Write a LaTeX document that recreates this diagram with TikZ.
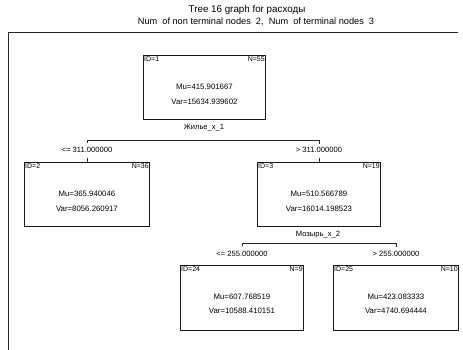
\documentclass[tikz,border=0pt]{standalone}
\usepackage{fontspec}
\setmainfont{Liberation Sans}
\usetikzlibrary{calc}
\begin{document}
\begin{tikzpicture}[x=1pt,y=-1pt,
  treebox/.style={draw=black!90,line width=0.9pt,minimum width=#1,minimum height=64pt,inner sep=0pt,anchor=north west},
  val/.style={font=\fontsize{7.8}{9}\selectfont,inner sep=0pt},
  corner/.style={font=\fontsize{7}{8}\selectfont,inner sep=1pt},
  split/.style={font=\fontsize{7.6}{9}\selectfont,inner sep=0pt},
  conn/.style={draw=black!85,line width=0.9pt}]
\useasboundingbox (0,0) rectangle (463,350);
% titles
\node[font=\fontsize{9.8}{11}\selectfont,inner sep=0pt] (t1) at (247,10) {Tree 16 graph for расходы};
\node[font=\fontsize{9.2}{11}\selectfont,inner sep=0pt] (t2) at (256,22) {Num\ \ of non terminal nodes\ \ 2,\ \ Num\ \ of terminal nodes\ \ 3};
% frame
\coordinate (fa) at (8,350);
\coordinate (fb) at (8,33);
\coordinate (fc) at (458,33);
\draw[black!85,line width=1pt] (fa) -- (fb) -- (fc);
% boxes
\node[treebox=122pt] (n1) at (143,55) {};
\node[treebox=125pt] (n2) at (24,162) {};
\node[treebox=123pt] (n3) at (257,162) {};
\node[treebox=123pt,minimum height=65pt] (n24) at (180,265) {};
\node[treebox=125pt,minimum height=65pt] (n25) at (333,265) {};
% corner labels
\node[corner,anchor=north west] (i1) at (n1.north west) {ID=1};
\node[corner,anchor=north east] (c1) at (n1.north east) {N=55};
\node[corner,anchor=north west] (i2) at (n2.north west) {ID=2};
\node[corner,anchor=north east] (c2) at (n2.north east) {N=36};
\node[corner,anchor=north west] (i3) at (n3.north west) {ID=3};
\node[corner,anchor=north east] (c3) at (n3.north east) {N=19};
\node[corner,anchor=north west] (i24) at (n24.north west) {ID=24};
\node[corner,anchor=north east] (c24) at (n24.north east) {N=9};
\node[corner,anchor=north west] (i25) at (n25.north west) {ID=25};
\node[corner,anchor=north east] (c25) at (n25.north east) {N=10};
% values
\node[val] (m1) at ($(n1.north)+(0,32)$) {Mu=415.901667};
\node[val] (v1) at ($(n1.north)+(0,47)$) {Var=15634.939602};
\node[val] (m2) at ($(n2.north)+(0,32)$) {Mu=365.940046};
\node[val] (v2) at ($(n2.north)+(0,47)$) {Var=8056.260917};
\node[val] (m3) at ($(n3.north)+(0,32)$) {Mu=510.566789};
\node[val] (v3) at ($(n3.north)+(0,47)$) {Var=16014.198523};
\node[val] (m24) at ($(n24.north)+(0,32)$) {Mu=607.768519};
\node[val] (v24) at ($(n24.north)+(0,46)$) {Var=10588.410151};
\node[val] (m25) at ($(n25.north)+(0,32)$) {Mu=423.083333};
\node[val] (v25) at ($(n25.north)+(0,46)$) {Var=4740.694444};
% split 1
\node[split] (s1) at (204,128) {Жилье\_х\_1};
\coordinate (a1) at (n2.north |- 0,140);
\coordinate (b1) at (n3.north |- 0,140);
\draw[conn] ($(a1)+(0,3)$) -- (a1) -- (b1) -- ($(b1)+(0,4)$);
\node[split] (l1) at (n2.north |- 0,150) {<= 311.000000};
\node[split] (r1) at (n3.north |- 0,150) {> 311.000000};
\draw[conn] (n2.north) -- ++(0,-4);
\draw[conn] (n3.north) -- ++(0,-4);
% split 2
\node[split] (s2) at (318,235) {Мозырь\_х\_2};
\coordinate (a2) at (n24.north |- 0,243);
\coordinate (b2) at (n25.north |- 0,243);
\draw[conn] ($(a2)+(0,3)$) -- (a2) -- (b2) -- ($(b2)+(0,4)$);
\node[split] (l2) at (n24.north |- 0,254) {<= 255.000000};
\node[split] (r2) at (n25.north |- 0,254) {> 255.000000};
\end{tikzpicture}
\end{document}
